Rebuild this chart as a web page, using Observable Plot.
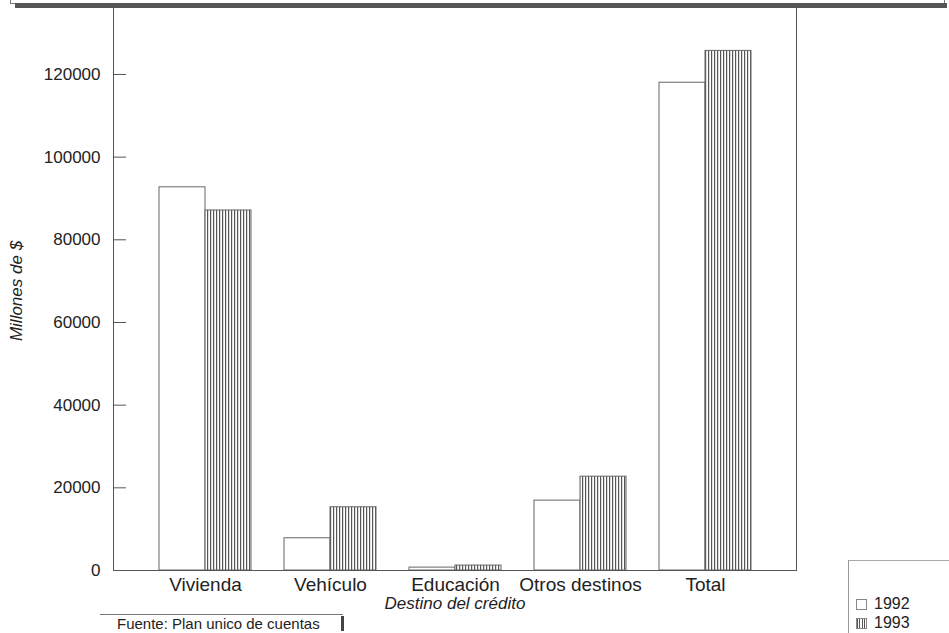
<!DOCTYPE html>
<html>
<head>
<meta charset="utf-8">
<script src="https://cdn.jsdelivr.net/npm/d3@7"></script>
<script src="https://cdn.jsdelivr.net/npm/@observablehq/plot@0.6"></script>
<style>
  body { margin: 0; background: #fff; font-family: "Liberation Sans", Arial, sans-serif; color: #222; overflow: hidden; }
  #wrap { position: relative; width: 949px; height: 633px; overflow: hidden; background: #fff; }
  #chart { position: absolute; left: 0; top: 0; }
  .topbox { position: absolute; left: 10px; top: -20px; width: 933px; height: 22px; border: 1px solid #777; background: #fff; }
  .topshadow { position: absolute; left: 15px; top: 3px; width: 932px; height: 5px; background: #555; }
  .legendbox { position: absolute; left: 848px; top: 560px; width: 110px; height: 110px; border-left: 1px solid #999; border-top: 1px solid #aaa; }
  .leg { position: absolute; left: 856px; font-size: 16px; line-height: 18px; height: 18px; color: #222; display: flex; align-items: center; }
  .sw { width: 9px; height: 9px; border: 1px solid #888; margin-right: 7px; background: #fff; }
  .sw.h { background: repeating-linear-gradient(90deg, #555 0 1px, #fff 1px 2.5px); }
  .fuente { position: absolute; left: 100px; top: 614px; width: 226px; height: 16px; padding-left: 17px; border-top: 1px solid #777; font-size: 15px; line-height: 15px; padding-top: 1px; color: #222; }
  .fmark { position: absolute; left: 341px; top: 616px; width: 3px; height: 15px; background: #444; }
</style>
</head>
<body>
<div id="wrap">
  <div id="chart"></div>
  <div class="topbox"></div>
  <div class="topshadow"></div>
  <div class="legendbox"></div>
  <div class="leg" style="top:595px"><span class="sw"></span>1992</div>
  <div class="leg" style="top:614px"><span class="sw h"></span>1993</div>
  <div class="fuente">Fuente: Plan unico de cuentas</div>
  <div class="fmark"></div>
</div>
<script>
const categories = ["Vivienda", "Vehículo", "Educación", "Otros destinos", "Total"];
const years = ["1992", "1993"];
const values1992 = [92700, 7800, 700, 16900, 118000];
const values1993 = [87100, 15300, 1200, 22700, 125700];
const yTicks = [0, 20000, 40000, 60000, 80000, 100000, 120000];
const yMax = 136200;
const xTitle = "Destino del crédito";
const yTitle = "Millones de $";

const data = categories.flatMap((c, i) => [
  {dest: c, year: years[0], value: values1992[i]},
  {dest: c, year: years[1], value: values1993[i]}
]);

const plot = Plot.plot({
  width: 949,
  height: 633,
  marginTop: 7,
  marginBottom: 63,
  marginLeft: 113,
  marginRight: 153,
  style: {fontFamily: "Liberation Sans, Arial, sans-serif", color: "#222", background: "transparent"},
  x: {domain: categories, paddingInner: 0.268, paddingOuter: 0.35, label: null},
  y: {domain: [0, yMax], label: null},
  marks: [
    Plot.barY(data.filter(d => d.year === years[0]), {x: "dest", y: "value", insetRight: 46, fill: "#fff", stroke: "#666", strokeWidth: 1}),
    Plot.barY(data.filter(d => d.year === years[1]), {x: "dest", y: "value", insetLeft: 46, fill: "url(#vhatch)", stroke: "#666", strokeWidth: 1}),
    Plot.frame({stroke: "#555"}),
    Plot.tickY(yTicks, {y: d => d, insetRight: 670, stroke: "#555"}),
    Plot.axisY({ticks: yTicks, tickSize: 0, tickPadding: 13, tickFormat: d3.format("d"), fontSize: 17, label: null}),
    Plot.axisX({tickSize: 0, tickPadding: 7, fontSize: 19, label: null}),
    Plot.text([xTitle], {frameAnchor: "bottom", dy: 38, fontStyle: "italic", fontSize: 17, fill: "#222"}),
    Plot.text([yTitle], {frameAnchor: "left", textAnchor: "middle", rotate: -90, dx: -97, dy: 2, fontStyle: "italic", fontSize: 17, fill: "#222"})
  ]
});

const svg = d3.select(plot);
const defs = svg.insert("defs", ":first-child");
const pat = defs.append("pattern").attr("id", "vhatch").attr("patternUnits", "userSpaceOnUse").attr("width", 3).attr("height", 10);
pat.append("rect").attr("width", 3).attr("height", 10).attr("fill", "#fff");
pat.append("rect").attr("x", 0).attr("width", 1.2).attr("height", 10).attr("fill", "#555");

document.getElementById("chart").appendChild(plot);
</script>
</body>
</html>
